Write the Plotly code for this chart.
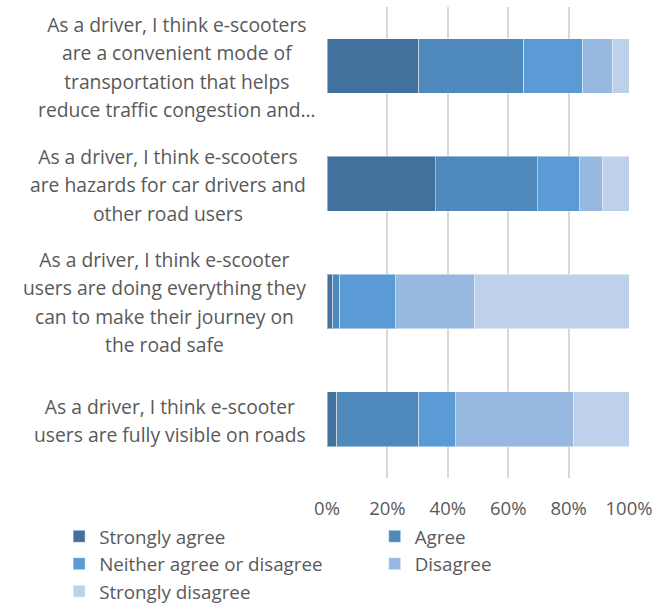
import plotly.graph_objects as go

# Survey statements (top to bottom) and response shares in percent
statements = [
    ["As a driver, I think e-scooters", "are a convenient mode of",
     "transportation that helps", "reduce traffic congestion and…"],
    ["As a driver, I think e-scooters", "are hazards for car drivers and",
     "other road users"],
    ["As a driver, I think e-scooter", "users are doing everything they",
     "can to make their journey on", "the road safe"],
    ["As a driver, I think e-scooter", "users are fully visible on roads"],
]
categories = ["Q1", "Q2", "Q3", "Q4"]

strongly_agree = [30.3, 35.8, 1.9, 3.2]
agree = [34.8, 33.8, 2.3, 27.1]
neither = [19.6, 14.0, 18.4, 12.1]
disagree = [9.7, 7.6, 26.1, 39.1]
strongly_disagree = [5.6, 8.8, 51.3, 18.5]

tick_values = [0, 20, 40, 60, 80, 100]
tick_labels = ["0%", "20%", "40%", "60%", "80%", "100%"]

# (name, values, colour, legend column)
series = [
    ("Strongly agree", strongly_agree, "#41719C", "legend"),
    ("Agree", agree, "#4F88BB", "legend2"),
    ("Neither agree or disagree", neither, "#5B9BD5", "legend"),
    ("Disagree", disagree, "#98B9DF", "legend2"),
    ("Strongly disagree", strongly_disagree, "#BDD1EA", "legend"),
]

FONT = "Open Sans"
FS = 19.3
LEGEND_FS = 18.8
TICK_FS = 18.5
TEXT_COLOR = "#595959"

fig = go.Figure()
for name, vals, color, lg in series:
    fig.add_trace(go.Bar(
        y=categories, x=vals, name=name, orientation="h", legend=lg,
        marker=dict(color=color, line=dict(color="rgba(255,255,255,0.45)", width=1)),
        hoverinfo="skip",
    ))

# Category labels: lines centred within a block right-aligned to the axis;
# a truncated last line (ending in an ellipsis) overflows slightly to the right
for cat, lines in zip(categories, statements):
    txt = "<br>".join(f'<span style="font-size:{FS}px">{ln}</span>' for ln in lines)
    overflow = lines[-1].endswith("…")
    fig.add_annotation(
        x=0, xref="paper", y=cat, yref="y", text=txt, showarrow=False,
        xanchor="right", yanchor="middle", align="center",
        xshift=-9 if overflow else -19, yshift=-1,
        font=dict(family=FONT, size=21.8, color=TEXT_COLOR),
    )

legend_common = dict(
    orientation="v", xanchor="left", y=-0.084, yanchor="top",
    traceorder="normal", bgcolor="rgba(0,0,0,0)",
    font=dict(family=FONT, size=LEGEND_FS, color=TEXT_COLOR),
    itemclick=False, itemdoubleclick=False,
)

fig.update_layout(
    barmode="stack",
    bargap=0.534,
    width=670, height=604,
    margin=dict(l=327, r=41, t=6.5, b=125.5, autoexpand=False),
    paper_bgcolor="white", plot_bgcolor="white",
    font=dict(family=FONT, size=FS, color=TEXT_COLOR),
    xaxis=dict(
        range=[0, 100], tickmode="array", tickvals=tick_values, ticktext=tick_labels,
        showgrid=True, gridcolor="#D9D9D9", gridwidth=1.5,
        zeroline=False, showline=False, ticks="", ticklabelstandoff=17,
        tickfont=dict(family=FONT, size=TICK_FS, color=TEXT_COLOR),
    ),
    yaxis=dict(
        categoryorder="array", categoryarray=categories, autorange="reversed",
        showticklabels=False, showgrid=False, zeroline=False, showline=False,
    ),
    legend=dict(x=-0.887, **legend_common),
    legend2=dict(x=0.158, **legend_common),
    showlegend=True,
)

fig.write_html("out.html")
